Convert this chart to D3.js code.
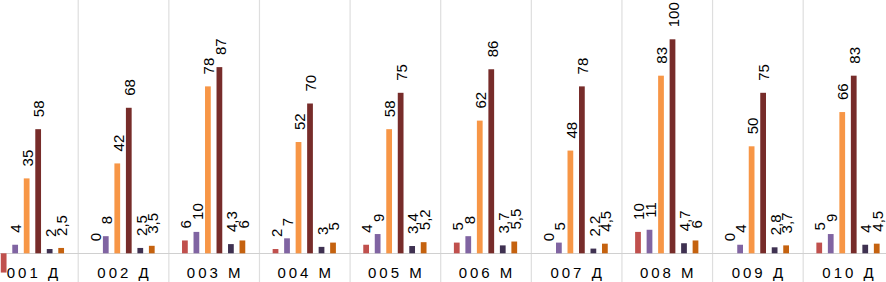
<!DOCTYPE html>
<html>
<head>
<meta charset="utf-8">
<script src="https://cdn.jsdelivr.net/npm/d3@7"></script>
<style>
  html, body { margin: 0; padding: 0; background: #fff; overflow: hidden; }
  svg { display: block; }
  text { font-family: "Liberation Sans", Arial, sans-serif; fill: #000; }
</style>
</head>
<body>
<svg id="chart" width="886" height="282"></svg>
<script>
const categories = ["001 Д", "002 Д", "003 М", "004 М", "005 М", "006 М", "007 Д", "008 М", "009 Д", "010 Д"];
const seriesNames = ["s1", "s2", "s3", "s4", "s5", "s6"];
const seriesColors = ["#C0504D", "#8064A2", "#F79646", "#772C2A", "#3F3151", "#C5620F"];
const s1 = [-9, 0, 6, 2, 4, 5, 0, 10, 0, 5];
const s2 = [4, 8, 10, 7, 9, 8, 5, 11, 4, 9];
const s3 = [35, 42, 78, 52, 58, 62, 48, 83, 50, 66];
const s4 = [58, 68, 87, 70, 75, 86, 78, 100, 75, 83];
const s5 = [2, 2.5, 4.3, 3, 3.4, 3.7, 2.2, 4.7, 2.8, 4];
const s6 = [2.5, 3.5, 6, 5, 5.2, 5.5, 4.5, 6, 3.7, 4.5];
const seriesValues = [s1, s2, s3, s4, s5, s6];

const svg = d3.select("#chart");
const W = 886, H = 282;

const x = d3.scaleBand().domain(categories).range([-12.9, 893.3]).padding(0);
const xi = d3.scaleBand().domain(d3.range(seriesNames.length))
  .range([0, x.bandwidth()]).paddingInner(0.5).paddingOuter(1.19);
const y = d3.scaleLinear().domain([0, 100]).range([253.3, 39.3]);

// category separators
svg.append("g").selectAll("line")
  .data(categories.slice(1))
  .join("line")
  .attr("x1", d => x(d) + 0.5).attr("x2", d => x(d) + 0.5)
  .attr("y1", 0).attr("y2", H)
  .attr("stroke", "#DEDEDE").attr("stroke-width", 1.2);

// baseline
svg.append("line")
  .attr("x1", 0).attr("x2", W)
  .attr("y1", Math.round(y(0)) + 0.5).attr("y2", Math.round(y(0)) + 0.5)
  .attr("stroke", "#D0D0D0").attr("stroke-width", 1.2);

const data = [];
categories.forEach((c, ci) => {
  seriesValues.forEach((arr, si) => {
    data.push({ c, si, v: arr[ci] });
  });
});

svg.append("g").selectAll("rect")
  .data(data)
  .join("rect")
  .attr("x", d => x(d.c) + xi(d.si))
  .attr("width", xi.bandwidth())
  .attr("y", d => Math.min(y(d.v), y(0)))
  .attr("height", d => Math.abs(y(d.v) - y(0)))
  .attr("fill", d => seriesColors[d.si]);

// value labels (the negative bar's label falls outside the visible area in the reference)
const fmt = v => String(v).replace(".", ",");
svg.append("g").selectAll("text")
  .data(data.filter(d => d.v >= 0))
  .join("text")
  .attr("transform", d => {
    const cx = x(d.c) + xi(d.si) + xi.bandwidth() / 2 + 1;
    const cy = y(d.v) - 12;
    return `translate(${cx},${cy}) rotate(-90)`;
  })
  .attr("text-anchor", "start")
  .attr("dy", "0.35em")
  .attr("font-size", "15px")
  .text(d => fmt(d.v));

// category labels
svg.append("g").selectAll("text")
  .data(categories)
  .join("text")
  .attr("x", d => x(d) + x.bandwidth() / 2 + 1.5)
  .attr("y", 278)
  .attr("text-anchor", "middle")
  .attr("font-size", "15px")
  .attr("letter-spacing", "3px")
  .text(d => d);
</script>
</body>
</html>
